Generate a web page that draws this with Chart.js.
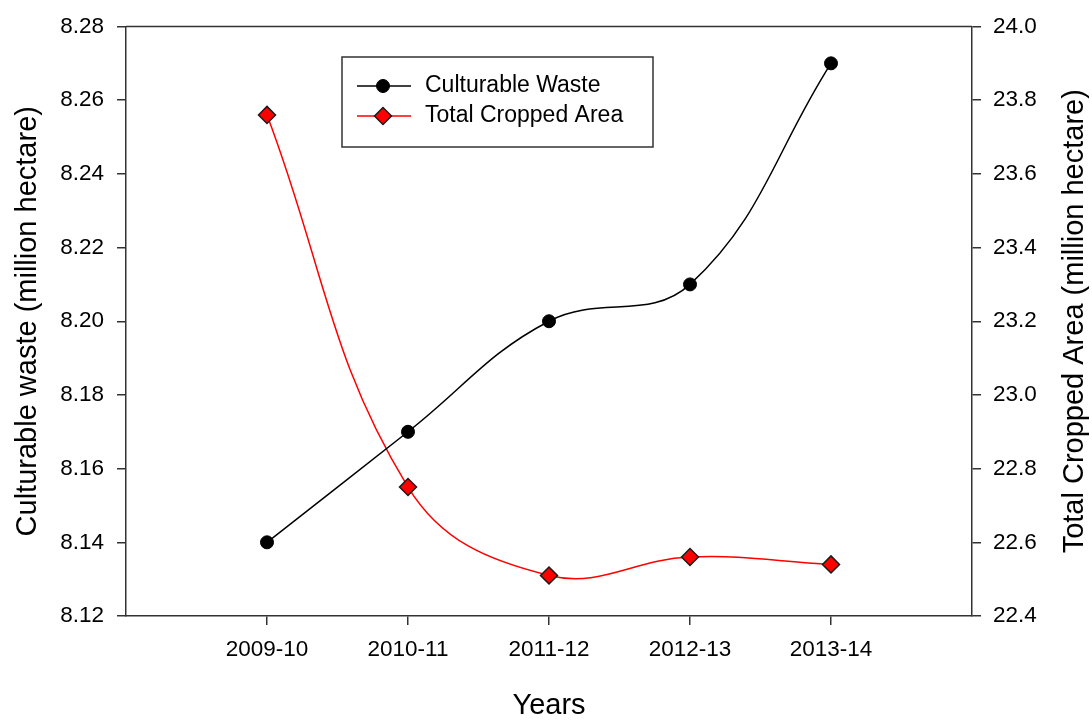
<!DOCTYPE html>
<html>
<head>
<meta charset="utf-8">
<script src="https://cdn.jsdelivr.net/npm/chart.js@4.4.1/dist/chart.umd.min.js"></script>
<style>
  body { margin: 0; background: #fff; }
  #wrap { width: 1092px; height: 720px; }
</style>
</head>
<body>
<div id="wrap"><canvas id="myChart" width="1092" height="720"></canvas></div>
<script>
// data
const years = ['2009-10', '2010-11', '2011-12', '2012-13', '2013-14'];
const culturableWaste = [8.14, 8.17, 8.20, 8.21, 8.27];
const totalCroppedArea = [23.76, 22.75, 22.51, 22.56, 22.54];

const FONT = 'Liberation Sans, Arial, sans-serif';
const AXIS_COLOR = '#333';
const TITLE_SIZE = 29;
const rightTitle = 'Total Cropped Area (million hectare)';

// top frame line + right axis title (reads bottom-to-top like the left one)
const frameExtras = {
    id: 'frameExtras',
    afterDraw(chart) {
        const { ctx, chartArea: { top, left, right, bottom } } = chart;
        ctx.save();
        ctx.strokeStyle = AXIS_COLOR;
        ctx.lineWidth = 1.5;
        ctx.beginPath();
        ctx.moveTo(left, top);
        ctx.lineTo(right, top);
        ctx.stroke();

        ctx.translate(chart.width - 17, (top + bottom) / 2);
        ctx.rotate(-Math.PI / 2);
        ctx.font = `${TITLE_SIZE}px ${FONT}`;
        ctx.fillStyle = '#000';
        ctx.textAlign = 'center';
        ctx.textBaseline = 'middle';
        ctx.fillText(rightTitle, 0, 0);
        ctx.restore();
    }
};

// boxed legend inside the plot
const boxLegend = {
    id: 'boxLegend',
    afterDraw(chart, args, opts) {
        const ctx = chart.ctx;
        ctx.save();
        ctx.strokeStyle = AXIS_COLOR;
        ctx.lineWidth = 1.5;
        ctx.strokeRect(opts.x, opts.y, opts.w, opts.h);

        chart.data.datasets.forEach((ds, i) => {
            const cy = opts.firstRow + i * opts.rowGap;
            const mx = opts.x + 41;
            ctx.strokeStyle = ds.borderColor;
            ctx.lineWidth = ds.borderWidth;
            ctx.beginPath();
            ctx.moveTo(opts.x + 15, cy);
            ctx.lineTo(opts.x + 69, cy);
            ctx.stroke();

            ctx.fillStyle = ds.pointBackgroundColor;
            ctx.strokeStyle = ds.pointBorderColor;
            ctx.lineWidth = ds.pointBorderWidth;
            const r = ds.pointRadius;
            ctx.beginPath();
            if (ds.pointStyle === 'rectRot') {
                ctx.moveTo(mx - r, cy);
                ctx.lineTo(mx, cy - r);
                ctx.lineTo(mx + r, cy);
                ctx.lineTo(mx, cy + r);
                ctx.closePath();
            } else {
                ctx.arc(mx, cy, r, 0, Math.PI * 2);
            }
            ctx.fill();
            ctx.stroke();

            ctx.font = `23px ${FONT}`;
            ctx.fillStyle = '#000';
            ctx.textAlign = 'left';
            ctx.textBaseline = 'middle';
            ctx.fillText(ds.label, opts.x + 83, cy);
        });
        ctx.restore();
    }
};

const data = {
    datasets: [{
        label: 'Culturable Waste',
        data: culturableWaste.map((v, i) => ({ x: i, y: v })),
        yAxisID: 'y',
        borderColor: '#000',
        borderWidth: 1.5,
        tension: 0.4,
        pointStyle: 'circle',
        pointRadius: 6.5,
        pointBackgroundColor: '#000',
        pointBorderColor: '#000',
        pointBorderWidth: 1,
    }, {
        label: 'Total Cropped Area',
        data: totalCroppedArea.map((v, i) => ({ x: i, y: v })),
        yAxisID: 'y1',
        borderColor: '#ff0000',
        borderWidth: 1.5,
        tension: 0.4,
        pointStyle: 'rectRot',
        pointRadius: 8.5,
        pointBackgroundColor: '#ff0000',
        pointBorderColor: '#1a1a1a',
        pointBorderWidth: 1.5,
    }]
};

const tickGrid = {
    drawOnChartArea: false,
    drawTicks: true,
    tickLength: 9,
    tickColor: AXIS_COLOR,
    lineWidth: 1.5,
};
const axisBorder = { display: true, color: AXIS_COLOR, width: 1.5 };
const tickFont = { family: FONT, size: 22.5 };

const config = {
    type: 'line',
    data: data,
    options: {
        responsive: false,
        animation: false,
        layout: { padding: { top: 24, left: 0, right: 0, bottom: 0 } },
        scales: {
            x: {
                type: 'linear',
                min: -1,
                max: 5,
                grid: tickGrid,
                border: axisBorder,
                afterBuildTicks: axis => {
                    axis.ticks = axis.ticks.filter(t => t.value >= 0 && t.value <= years.length - 1);
                },
                afterFit: axis => { axis.height = 104; },
                ticks: {
                    stepSize: 1,
                    autoSkip: false,
                    maxRotation: 0,
                    padding: 11,
                    color: '#000',
                    font: tickFont,
                    callback: v => years[v] || ''
                },
                title: {
                    display: true,
                    text: 'Years',
                    color: '#000',
                    padding: 0,
                    font: { family: FONT, size: TITLE_SIZE, lineHeight: 1 }
                }
            },
            y: {
                position: 'left',
                min: 8.12,
                max: 8.28,
                grid: tickGrid,
                border: axisBorder,
                afterFit: axis => { axis.width = 126; },
                ticks: {
                    stepSize: 0.02,
                    padding: 13,
                    color: '#000',
                    font: tickFont,
                    callback: v => v.toFixed(2)
                },
                title: {
                    display: true,
                    text: 'Culturable waste (million hectare)',
                    color: '#000',
                    padding: 13,
                    font: { family: FONT, size: TITLE_SIZE, lineHeight: 1 }
                }
            },
            y1: {
                position: 'right',
                min: 22.4,
                max: 24.0,
                grid: tickGrid,
                border: axisBorder,
                afterFit: axis => { axis.width = 120; },
                ticks: {
                    stepSize: 0.2,
                    padding: 12,
                    color: '#000',
                    font: tickFont,
                    callback: v => v.toFixed(1)
                }
            }
        },
        plugins: {
            legend: { display: false },
            tooltip: { enabled: false },
            boxLegend: { x: 342, y: 57, w: 311, h: 90, firstRow: 86, rowGap: 30 }
        }
    },
    plugins: [frameExtras, boxLegend]
};

const myChart = new Chart(document.getElementById('myChart'), config);
</script>
</body>
</html>
